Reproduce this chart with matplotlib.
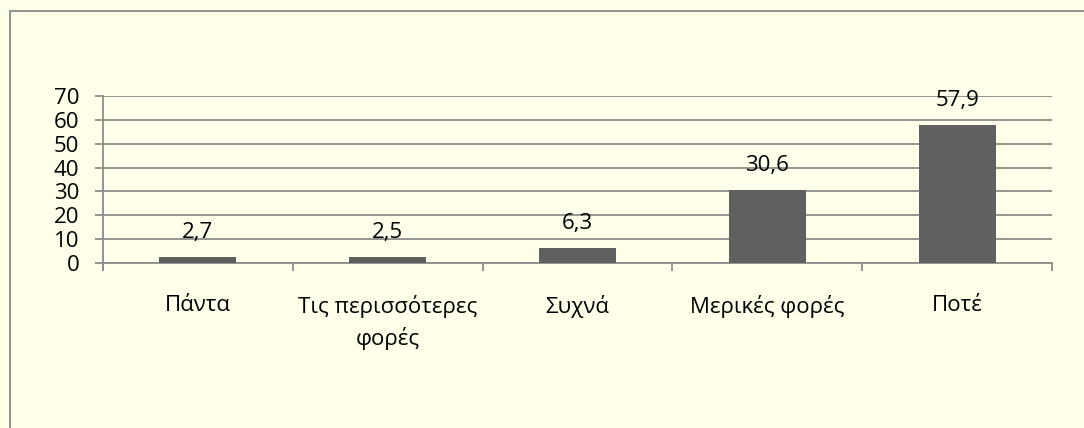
import matplotlib.pyplot as plt
import matplotlib.patches as patches

categories = ['Πάντα', 'Τις περισσότερες\nφορές', 'Συχνά', 'Μερικές φορές', 'Ποτέ']
values = [2.7, 2.5, 6.3, 30.6, 57.9]
yticks = [0, 10, 20, 30, 40, 50, 60, 70]

bg = '#FFFFEA'
grid_col = '#8C8C8C'
bar_col = '#606060'
fs = 16

plt.rcParams['font.family'] = ['Open Sans', 'DejaVu Sans']

W, H = 1084, 428
fig = plt.figure(figsize=(W / 100, H / 100), dpi=100, facecolor=bg)

# outer frame of the chart, runs off the right and bottom edges
frame = patches.Rectangle((9.5 / W, -0.2), 1.2, 1.2 - 10.5 / H, transform=fig.transFigure,
                          fill=False, edgecolor='#8A8A8A', linewidth=1.3)
fig.patches.append(frame)

left, right = 103 / W, 1052 / W
top, bottom = 1 - 96 / H, 1 - 263 / H
ax = fig.add_axes([left, bottom, right - left, top - bottom])
ax.set_facecolor(bg)

x = range(len(categories))
ax.bar(x, values, width=0.405, color=bar_col, zorder=3)
for xi, v in zip(x, values):
    ax.annotate(f'{v:.1f}'.replace('.', ','), (xi, v), xytext=(0, 10),
                textcoords='offset points', ha='center', va='bottom', fontsize=fs)

ax.set_xlim(-0.5, len(categories) - 0.5)
ax.set_ylim(0, 70)
ax.set_yticks(yticks)
ax.set_yticklabels([str(t) for t in yticks], fontsize=fs)
for t in yticks:
    ax.axhline(t, color=grid_col, linewidth=1.3, zorder=1)

ax.set_xticks([i - 0.5 for i in range(len(categories) + 1)], minor=False)
ax.set_xticklabels([])
ax.set_xticks(list(x), minor=True)
ax.set_xticklabels(categories, minor=True, fontsize=fs, linespacing=1.5)
ax.tick_params(axis='x', which='minor', length=0, pad=23)
ax.tick_params(axis='x', which='major', length=5.5, width=1.3, color=grid_col)
ax.tick_params(axis='y', length=6, width=1.3, color=grid_col, pad=11)

for s in ['top', 'right']:
    ax.spines[s].set_visible(False)
ax.spines['left'].set_color(grid_col)
ax.spines['left'].set_linewidth(1.3)
ax.spines['left'].set_bounds(-3, 70)
ax.spines['bottom'].set_color(grid_col)
ax.spines['bottom'].set_linewidth(1.3)
ax.set_clip_on(False)

fig.savefig('out.png', dpi=100, facecolor=bg)
